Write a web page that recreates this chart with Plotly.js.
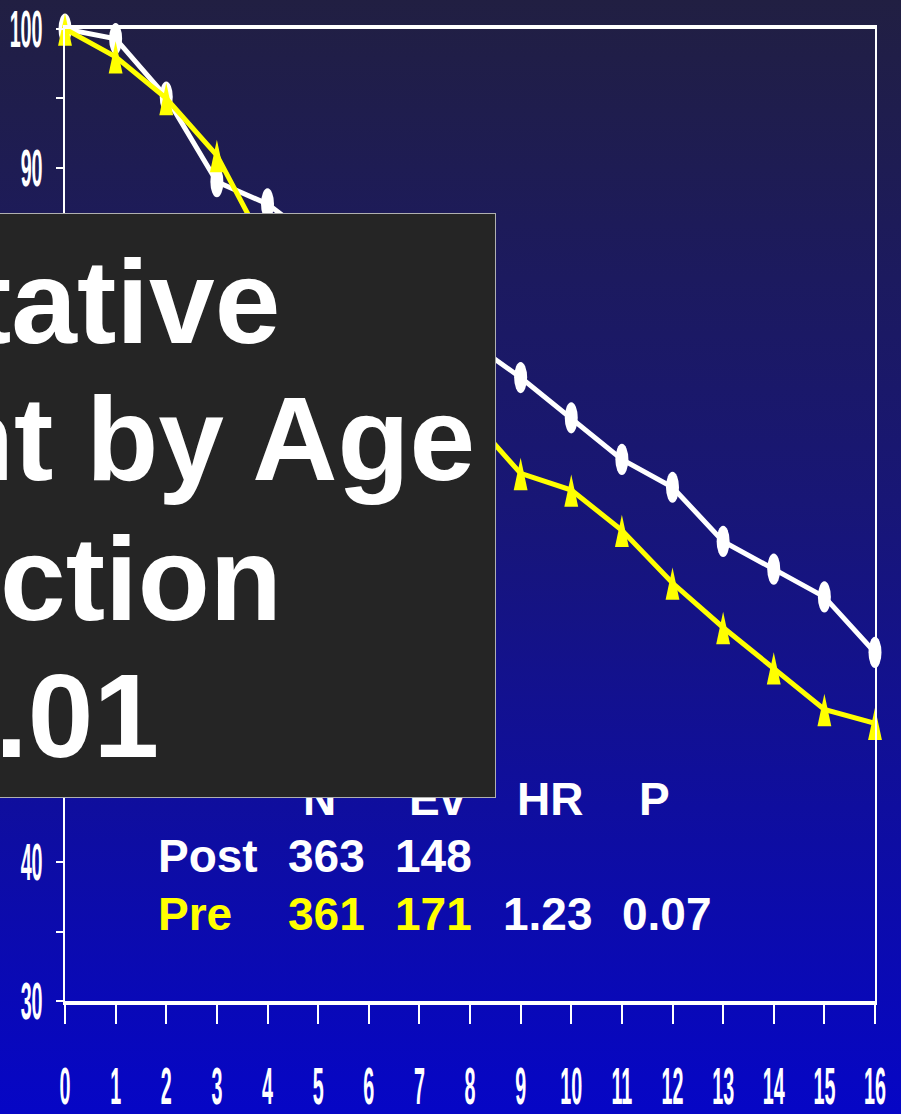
<!DOCTYPE html>
<html>
<head>
<meta charset="utf-8">
<script src="https://cdn.plot.ly/plotly-3.0.1.min.js"></script>
<style>
  html, body { margin: 0; padding: 0; background: #0606c4; }
  #chart { width: 901px; height: 1114px; background: linear-gradient(to bottom, #211f42 0%, #181676 45%, #0606c6 100%); }
</style>
</head>
<body>
<div id="chart"></div>
<script>
// ---- data ----
const years = [0, 1, 2, 3, 4, 5, 6, 7, 8, 9, 10, 11, 12, 13, 14, 15, 16];
const postValues = [100, 99.3, 95.1, 89.0, 87.4, 84.6, 82.1, 79.8, 77.5, 74.9, 72.0, 69.0, 67.0, 63.1, 61.1, 59.1, 55.1];
const preValues  = [100, 98.0, 95.0, 90.9, 84.0, 81.0, 78.0, 75.0, 72.1, 68.0, 66.8, 63.9, 60.1, 56.9, 54.0, 51.0, 50.0];
const yTickVals = [30, 35, 40, 45, 50, 55, 60, 65, 70, 75, 80, 85, 90, 95, 100];
// labels 50-80 sit under the dark box in the reference and are not visible
const yTickText = ['30', '', '40', '', '', '', '', '', '', '', '', '', '90', '', '100'];
const tableHeader = ['N', 'Ev', 'HR', 'P'];
const postRow = ['Post', '363', '148'];
const preRow = ['Pre', '361', '171'];
const statsRow = ['1.23', '0.07'];
const boxLines = ['tative', 'nt by Age', 'ction', '.01'];

// ---- layout geometry (pixels) ----
const W = 901, H = 1114;
const M = { l: 65, r: 26, t: 29, b: 113 };
const PW = W - M.l - M.r, PH = H - M.t - M.b;
const px = x => (x - M.l) / PW;      // page x pixel -> paper
const py = y => (H - M.b - y) / PH;  // page y pixel -> paper

const WHITE = '#ffffff', YELLOW = '#ffff00';
const tableFont = c => ({ family: 'Liberation Sans, Arial, sans-serif', size: 46, color: c, weight: 'bold' });
const bigFont = { family: 'Liberation Sans, Arial, sans-serif', size: 118, color: WHITE, weight: 'bold' };

const annotations = [];
function txt(text, x, y, xanchor, color, font) {
  annotations.push({ xref: 'paper', yref: 'paper', x: px(x), y: py(y), xanchor: xanchor, yanchor: 'middle',
    text: text, showarrow: false, font: font || tableFont(color), borderpad: 0 });
}
// header row (partly covered by the box)
const headerX = [319, 437, 550, 654];
tableHeader.forEach((t, i) => txt(t, headerX[i], 799, 'center', WHITE));
// the dark overlay box
annotations.push({ xref: 'paper', yref: 'paper', x: px(496), y: py(213), xanchor: 'right', yanchor: 'top',
  text: ' ', showarrow: false, width: 540, height: 583, bgcolor: '#252525', bordercolor: '#b0b0b0',
  borderwidth: 1, borderpad: 0, font: { size: 10 } });
// big text on the box
const boxRight = [281, 476, 283, 160];
const boxMid = [302, 439, 579, 716];
boxLines.forEach((t, i) => txt(t, boxRight[i], boxMid[i], 'right', WHITE, bigFont));
// table rows
const colX = [157, 287, 394];
postRow.forEach((t, i) => txt(t, colX[i], 856, 'left', WHITE));
preRow.forEach((t, i) => txt(t, colX[i], 914, 'left', YELLOW));
const statX = [502, 621];
statsRow.forEach((t, i) => txt(t, statX[i], 914, 'left', WHITE));

const tickFont = { family: 'Liberation Sans, Arial, sans-serif', size: 52, color: WHITE, weight: 'bold' };

const traces = [
  { x: years, y: postValues, type: 'scatter', mode: 'lines+markers', name: 'Post', cliponaxis: false,
    line: { color: WHITE, width: 5 }, marker: { symbol: 'circle', size: 13, color: WHITE, line: { width: 0 } } },
  { x: years, y: preValues, type: 'scatter', mode: 'lines+markers', name: 'Pre', cliponaxis: false,
    line: { color: YELLOW, width: 5 }, marker: { symbol: 'triangle-up', size: 12, color: YELLOW, line: { width: 0 } } }
];

const layout = {
  width: W, height: H, margin: { l: M.l, r: M.r, t: M.t, b: M.b, pad: 0 },
  paper_bgcolor: 'rgba(0,0,0,0)', plot_bgcolor: 'rgba(0,0,0,0)',
  showlegend: false,
  xaxis: { range: [0, 16], tickvals: years, ticktext: years.map(String), showgrid: false, zeroline: false,
    showline: true, linecolor: WHITE, linewidth: 4, mirror: true, tickangle: 0, ticklabeloverflow: 'allow',
    ticks: 'outside', ticklen: 19, tickwidth: 2, tickcolor: WHITE, tickfont: tickFont, ticklabelstandoff: 18 },
  yaxis: { range: [30, 100], tickvals: yTickVals, ticktext: yTickText, showgrid: false, zeroline: false,
    showline: true, linecolor: WHITE, linewidth: 2, mirror: true, ticklabeloverflow: 'allow',
    ticks: 'outside', ticklen: 7, tickwidth: 2, tickcolor: WHITE, tickfont: tickFont, ticklabelstandoff: 3 },
  annotations: annotations
};

Plotly.newPlot('chart', traces, layout, { staticPlot: true, responsive: false }).then(() => {
  // narrow, tall tick labels as in the reference
  document.querySelectorAll('.xtick text, .ytick text').forEach(t => {
    const x = +t.getAttribute('x') || 0, y = +t.getAttribute('y') || 0;
    const old = t.getAttribute('transform') || '';
    t.setAttribute('transform', old + ' translate(' + x + ',' + y + ') scale(0.38,1) translate(' + (-x) + ',' + (-y) + ')');
  });
  // tall, narrow markers as in the reference
  const groups = document.querySelectorAll('.scatterlayer .trace');
  const stretch = ['scale(1,2.4)', 'translate(0,6) scale(1,3.6)'];
  groups.forEach((g, i) => {
    g.querySelectorAll('path.point').forEach(p => {
      p.setAttribute('transform', (p.getAttribute('transform') || '') + ' ' + stretch[i]);
    });
  });
});
</script>
</body>
</html>
